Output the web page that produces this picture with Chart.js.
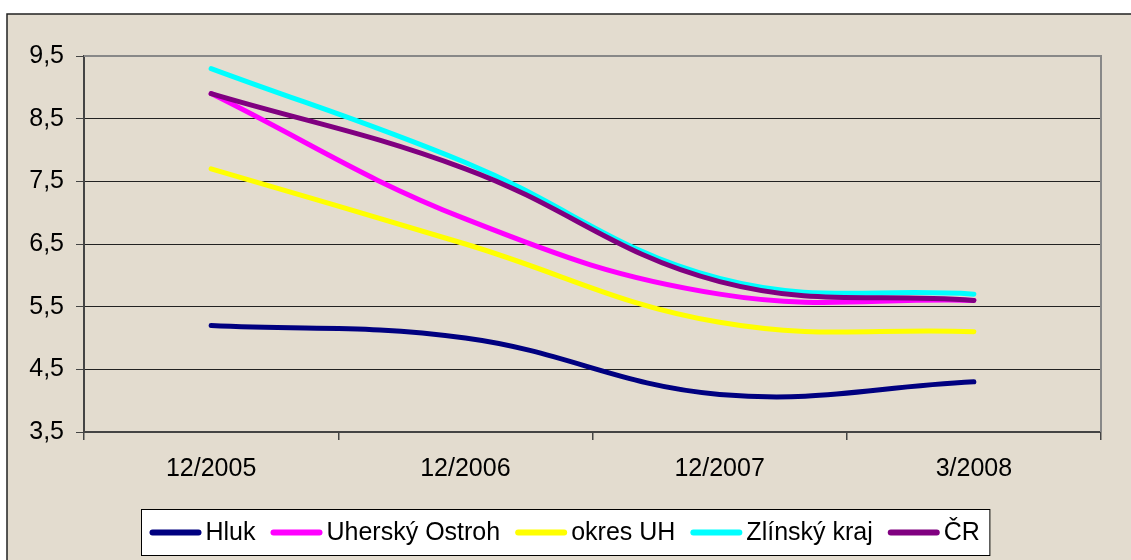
<!DOCTYPE html>
<html><head><meta charset="utf-8">
<script src="https://cdn.jsdelivr.net/npm/chart.js@4.4.0/dist/chart.umd.min.js"></script>
<style>html,body{margin:0;padding:0;background:#fff;} canvas{display:block;}</style>
</head><body>
<canvas id="c" width="1131" height="560" style="width:1131px;height:560px"></canvas>
<script>
const categories = ['12/2005', '12/2006', '12/2007', '3/2008'];
const seriesNames = ['Hluk', 'Uherský Ostroh', 'okres UH', 'Zlínský kraj', 'ČR'];
const hluk = [5.2, 5.0, 4.1, 4.3];
const uherskyOstroh = [8.9, 6.9, 5.7, 5.6];
const okresUH = [7.7, 6.5, 5.25, 5.1];
const zlinskyKraj = [9.3, 7.8, 5.95, 5.7];
const cr = [8.9, 7.7, 5.9, 5.6];
const yTicks = [3.5, 4.5, 5.5, 6.5, 7.5, 8.5, 9.5];
const seriesColors = ['#000080', '#FF00FF', '#FFFF00', '#00FFFF', '#800080'];

const seriesValues = [hluk, uherskyOstroh, okresUH, zlinskyKraj, cr];
const FONT = '"Liberation Sans", Arial, sans-serif';

const datasets = seriesNames.map((name, i) => ({
  label: name,
  data: seriesValues[i],
  borderColor: seriesColors[i],
  backgroundColor: seriesColors[i],
  borderWidth: 5,
  borderCapStyle: 'round',
  borderJoinStyle: 'round',
  pointRadius: 0,
  pointHoverRadius: 0,
  tension: 0.4,
  fill: false,
  order: seriesNames.length - i
}));

const framePlugin = {
  id: 'frame',
  beforeDraw(chart) {
    const ctx = chart.ctx;
    ctx.save();
    ctx.fillStyle = '#ffffff';
    ctx.fillRect(0, 0, chart.width, chart.height);
    ctx.fillStyle = '#E3DCCF';
    ctx.fillRect(7, 14, chart.width - 7, chart.height - 14);
    ctx.strokeStyle = '#222';
    ctx.lineWidth = 1.5;
    ctx.beginPath();
    ctx.moveTo(7, chart.height);
    ctx.lineTo(7, 14);
    ctx.lineTo(chart.width, 14);
    ctx.stroke();
    ctx.restore();
  },
  afterDraw(chart) {
    const ctx = chart.ctx;
    const a = chart.chartArea;
    ctx.save();
    // plot area border (top & right)
    ctx.strokeStyle = '#888';
    ctx.lineWidth = 2;
    ctx.beginPath();
    ctx.moveTo(a.left, a.top);
    ctx.lineTo(a.right, a.top);
    ctx.lineTo(a.right, a.bottom);
    ctx.stroke();

    // legend
    ctx.font = '25px ' + FONT;
    const lineW = 52, gapLT = 4, gapItem = 15, padL = 8, padR = 10;
    const items = chart.data.datasets.map(d => ({ text: d.label, color: d.borderColor, w: ctx.measureText(d.label).width }));
    let content = 0;
    items.forEach((it, i) => { content += lineW + gapLT + it.w + (i < items.length - 1 ? gapItem : 0); });
    const boxW = content + padL + padR;
    const boxX = Math.round(chart.width / 2 - boxW / 2) + 0.5;
    const boxY = 509.5, boxH = 46;
    ctx.fillStyle = '#fff';
    ctx.fillRect(boxX, boxY, boxW, boxH);
    ctx.strokeStyle = '#000';
    ctx.lineWidth = 1;
    ctx.strokeRect(boxX, boxY, boxW, boxH);
    let x = boxX + padL;
    const cy = boxY + boxH / 2;
    items.forEach(it => {
      ctx.strokeStyle = it.color;
      ctx.lineWidth = 6;
      ctx.lineCap = 'round';
      ctx.beginPath();
      ctx.moveTo(x + 3, cy);
      ctx.lineTo(x + lineW - 3, cy);
      ctx.stroke();
      x += lineW + gapLT;
      ctx.fillStyle = '#000';
      ctx.textBaseline = 'middle';
      ctx.textAlign = 'left';
      ctx.fillText(it.text, x, cy + 1);
      x += it.w + gapItem;
    });
    ctx.restore();
  }
};

new Chart(document.getElementById('c'), {
  type: 'line',
  data: { labels: categories, datasets },
  plugins: [framePlugin],
  options: {
    responsive: false,
    devicePixelRatio: 1,
    animation: false,
    events: [],
    layout: { padding: { top: 56, right: 30, left: 0, bottom: 0 } },
    plugins: { legend: { display: false }, tooltip: { enabled: false } },
    scales: {
      x: {
        type: 'category',
        offset: true,
        afterFit(s) { s.height = 128; },
        grid: { offset: true, drawOnChartArea: false, drawTicks: true, tickLength: 8, color: '#444', lineWidth: 1.5 },
        border: { display: true, color: '#444', width: 2 },
        ticks: { color: '#000', font: { family: FONT, size: 25 }, padding: 14, maxRotation: 0, autoSkip: false }
      },
      y: {
        min: 3.5,
        max: 9.5,
        afterFit(s) { s.width = 84; },
        afterBuildTicks(s) { s.ticks = yTicks.map(v => ({ value: v })); },
        grid: { color: '#222', lineWidth: 1, tickLength: 8, tickColor: '#444' },
        border: { display: true, color: '#444', width: 2 },
        ticks: {
          color: '#000',
          font: { family: FONT, size: 25 },
          padding: 12,
          callback: v => Number(v).toFixed(1).replace('.', ',')
        }
      }
    }
  }
});
</script>
</body></html>
